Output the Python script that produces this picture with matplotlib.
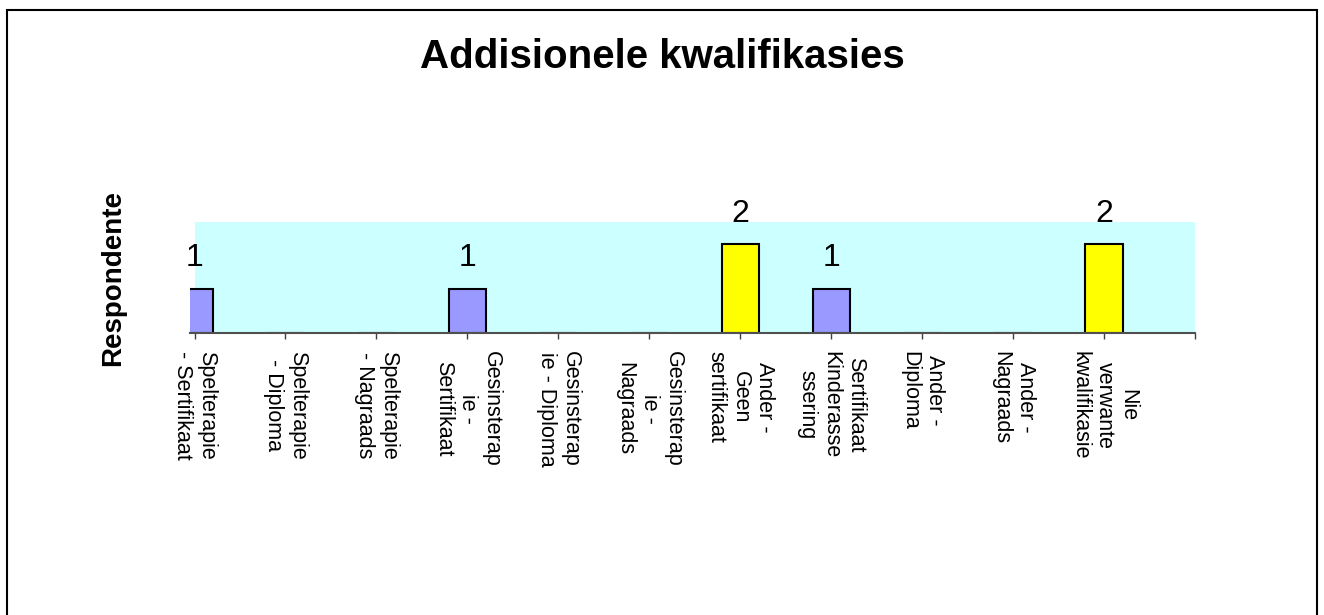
import numpy as np
from matplotlib import pyplot as plt
from matplotlib.patches import Rectangle

plt.rcParams['font.family'] = ['Liberation Sans', 'DejaVu Sans']

categories = ['Spelterapie\n- Sertifikaat', 'Spelterapie\n- Diploma', 'Spelterapie\n- Nagraads',
              'Gesinsterap\nie -\nSertifikaat', 'Gesinsterap\nie - Diploma', 'Gesinsterap\nie -\nNagraads',
              'Ander -\nGeen\nsertifikaat', 'Sertifikaat\nKinderasse\nssering', 'Ander -\nDiploma',
              'Ander -\nNagraads', 'Nie\nverwante\nkwalifikasie']
respondente = [1, 0, 0, 1, 0, 0, 2, 1, 0, 0, 2]

W, H = 1324, 615
fig = plt.figure(figsize=(W / 100, H / 100), dpi=100)

# outer frame (bottom edge runs off the picture)
fig.patches.append(Rectangle((7 / W, -0.1), (1317 - 7) / W, 1.1 - 10 / H, transform=fig.transFigure,
                             fill=False, edgecolor='black', linewidth=1.5))

ax = fig.add_axes([190 / W, 1 - 333 / H, (1195 - 190) / W, (333 - 222) / H])
x = np.arange(len(categories))
colors = ['#FFFF00' if v == 2 else '#9999FF' for v in respondente]

ax.axvspan(0, len(categories), color='#CCFFFF', zorder=0, linewidth=0)
ax.bar(x, respondente, width=0.41, color=colors, edgecolor='black', linewidth=1.5, zorder=2)
for xi, v in zip(x, respondente):
    if v > 0:
        ax.annotate(str(v), (xi, v), xytext=(0, 11), textcoords='offset points',
                    ha='center', va='bottom', fontsize=23)

ax.set_xlim(-0.05, len(categories))
ax.set_ylim(0, 2.5)
ax.set_xticks(np.arange(len(categories) + 1))
ax.set_xticklabels(categories + [''], rotation=-90, fontsize=15.5, va='top', ha='center',
                   linespacing=1.2)
ax.tick_params(axis='x', direction='out', length=4, width=1, color='#404040', pad=9)
ax.set_yticks([])
for s in ['top', 'right', 'left']:
    ax.spines[s].set_visible(False)
ax.spines['bottom'].set_color('#505050')
ax.spines['bottom'].set_linewidth(1.5)
ax.set_facecolor('none')

fig.text(113 / W, 1 - 278 / H, 'Respondente', rotation=90, fontsize=20, fontweight='bold',
         ha='center', va='center')
fig.text(662 / W, 1 - 57 / H, 'Addisionele kwalifikasies', fontsize=29, fontweight='bold',
         ha='center', va='center')

fig.savefig('out.png', dpi=100)
